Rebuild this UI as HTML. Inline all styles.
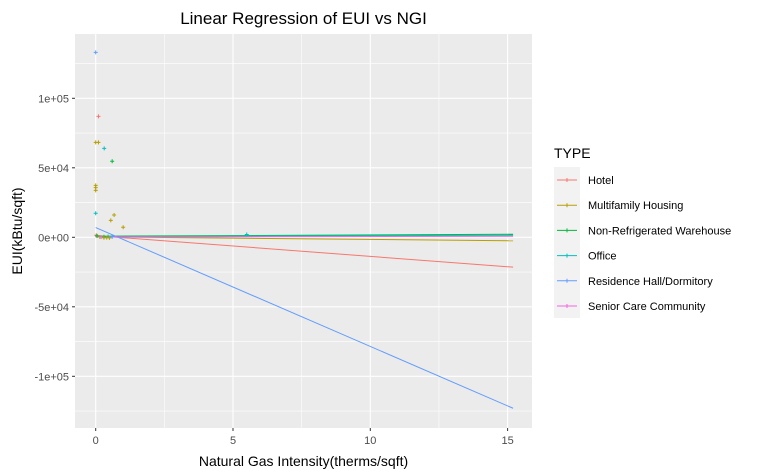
<!DOCTYPE html>
<html><head><meta charset="utf-8"><style>
body{margin:0;background:#fff;}
svg{display:block;font-family:"Liberation Sans",Arial,sans-serif;}
</style></head><body>
<svg id="chart" width="770" height="475" viewBox="0 0 770 475"></svg>
<script>
const types = ["Hotel","Multifamily Housing","Non-Refrigerated Warehouse","Office","Residence Hall/Dormitory","Senior Care Community"];
const colors = ["#F8766D","#B79F00","#00BA38","#00BFC4","#619CFF","#F564E3"];
// regression line endpoints: [x0, y0, x1, y1]
const lineX0 = [0,0,0,0,0,0];
const lineY0 = [1200,300,800,600,7000,200];
const lineX1 = [15.2,15.2,15.2,15.2,15.2,15.2];
const lineY1 = [-21500,-2500,2200,1500,-123000,800];
// scatter points: [typeIndex, x, y]
const pointType = [4,0,1,1,3,2,1,1,1,3,1,1,1,0,1,2,3,4,5,1,1,1,3,2];
const pointX = [0,0.1,0,0.1,0.31,0.6,0,0,0,0,0.55,0.67,1.0,0.02,0.15,0.3,0.45,0.6,0.2,0.3,0.4,0.5,5.5,0.05];
const pointY = [133000,87000,68300,68300,64000,54700,37400,35700,33800,17300,12200,16000,7200,1500,200,400,600,300,100,-300,-200,-400,2000,1000];
const xTicks = [0,5,10,15];
const xTickLabels = ["0","5","10","15"];
const yTicks = [100000,50000,0,-50000,-100000];
const yTickLabels = ["1e+05","5e+04","0e+00","-5e+04","-1e+05"];

const NS="http://www.w3.org/2000/svg";
const svg=document.getElementById('chart');
const P={l:75,t:34,r:532,b:428};
const X=v=>95.7+v*27.46;
const Y=v=>237.3-v*69.5/50000;
function mk(tag,attrs,parent){const e=document.createElementNS(NS,tag);for(const k in attrs)e.setAttribute(k,attrs[k]);(parent||svg).appendChild(e);return e;}

const panel=mk('rect',{x:P.l,y:P.t,width:P.r-P.l,height:P.b-P.t,fill:'#EBEBEB'});



const grid=mk('g',{});


for(let v=-125000;v<=125000;v+=25000){
  const major=v%50000===0;
  mk('line',{x1:P.l,x2:P.r,y1:Y(v),y2:Y(v),stroke:'#fff','stroke-width':major?1.1:0.55},grid);
}
for(let v=0;v<=15;v+=2.5){
  const major=v%5===0;
  mk('line',{y1:P.t,y2:P.b,x1:X(v),x2:X(v),stroke:'#fff','stroke-width':major?1.1:0.55},grid);
}

const lines=mk('g',{});


for(let i=0;i<types.length;i++){
  const l=mk('line',{x1:X(lineX0[i]),y1:Y(lineY0[i]),x2:X(lineX1[i]),y2:Y(lineY1[i]),stroke:colors[i],'stroke-width':1},lines);
  
  
}

const pts=mk('g',{});


for(let i=0;i<pointX.length;i++){
  const cx=X(pointX[i]),cy=Y(pointY[i]),c=colors[pointType[i]];
  const p=mk('path',{d:`M${cx-2},${cy}H${cx+2}M${cx},${cy-2}V${cy+2}`,stroke:c,'stroke-width':1},pts);
  
  
}

const ax=mk('g',{'font-size':11,fill:'#4D4D4D'});


for(let i=0;i<xTicks.length;i++){
  const x=X(xTicks[i]);
  mk('line',{x1:x,x2:x,y1:P.b,y2:P.b+3,stroke:'#333'},ax);
  const t=mk('text',{x:x,y:P.b+16,'text-anchor':'middle'},ax);
  t.textContent=xTickLabels[i];
  
  
}
for(let i=0;i<yTicks.length;i++){
  const y=Y(yTicks[i]);
  mk('line',{x1:P.l-3,x2:P.l,y1:y,y2:y,stroke:'#333'},ax);
  const t=mk('text',{x:P.l-6,y:y+4,'text-anchor':'end'},ax);
  t.textContent=yTickLabels[i];
  
  
}
const xt=mk('text',{x:(P.l+P.r)/2,y:466,'text-anchor':'middle','font-size':14,fill:'#000'});
xt.textContent='Natural Gas Intensity(therms/sqft)';


const yt=mk('text',{x:0,y:0,transform:`translate(22,${(P.t+P.b)/2}) rotate(-90)`,'text-anchor':'middle','font-size':14,fill:'#000'});
yt.textContent='EUI(kBtu/sqft)';


const title=mk('text',{x:(P.l+P.r)/2,y:24,'text-anchor':'middle','font-size':17,fill:'#000'});
title.textContent='Linear Regression of EUI vs NGI';



const lg=mk('g',{});


const lt=mk('text',{x:554,y:158,'font-size':14,fill:'#000'},lg);
lt.textContent='TYPE';


mk('rect',{x:554,y:167,width:26,height:151,fill:'#F2F2F2'},lg);
for(let i=0;i<types.length;i++){
  const y=180+i*25.2;
  const e=mk('g',{},lg);
  
  
  mk('line',{x1:557,x2:577,y1:y,y2:y,stroke:colors[i]},e);
  mk('line',{x1:567,x2:567,y1:y-2,y2:y+2,stroke:colors[i]},e);
  const t=mk('text',{x:588,y:y+4,'font-size':11,fill:'#000'},e);
  t.textContent=types[i];
}
</script>
</body></html>
